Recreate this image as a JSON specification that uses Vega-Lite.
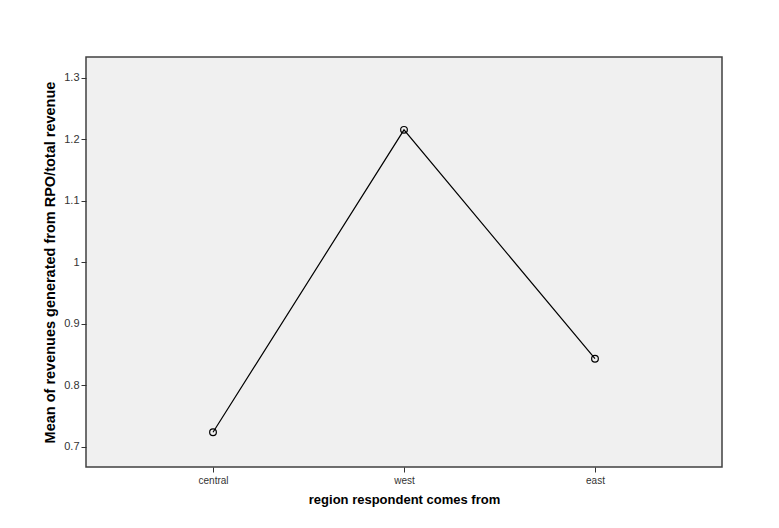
{
  "$schema": "https://vega.github.io/schema/vega-lite/v6.json",
  "autosize": "none",
  "width": 636,
  "height": 410,
  "padding": {"left": 86, "top": 57, "right": 57, "bottom": 61},
  "background": "white",
  "config": {
    "view": {"fill": "#f0f0f0", "stroke": "#404040", "strokeWidth": 1.5},
    "font": "Liberation Sans"
  },
  "data": {
    "values": [
      {"region": "central", "mean": 0.7233},
      {"region": "west", "mean": 1.2154},
      {"region": "east", "mean": 0.843}
    ]
  },
  "encoding": {
    "x": {
      "field": "region",
      "type": "ordinal",
      "sort": ["central", "west", "east"],
      "scale": {"type": "point", "padding": 0.665},
      "axis": {
        "title": "region respondent comes from",
        "titleFont": "Liberation Sans",
        "titleFontSize": 13,
        "titleFontWeight": "bold",
        "titleColor": "black",
        "titlePadding": 8,
        "labelAngle": 0,
        "labelFontSize": 10,
        "labelColor": "#333333",
        "labelPadding": 3,
        "tickColor": "#333333",
        "tickSize": 5,
        "domain": false,
        "grid": false
      }
    },
    "y": {
      "field": "mean",
      "type": "quantitative",
      "scale": {"domain": [0.6667, 1.334], "nice": false, "zero": false},
      "axis": {
        "title": "Mean of revenues generated from RPO/total revenue",
        "titleFont": "Liberation Sans",
        "titleFontSize": 14.5,
        "titleFontWeight": "bold",
        "titleColor": "black",
        "titlePadding": 6,
        "values": [0.7, 0.8, 0.9, 1.0, 1.1, 1.2, 1.3],
        "format": "~g",
        "labelFontSize": 11,
        "labelColor": "#333333",
        "labelPadding": 2,
        "tickColor": "#333333",
        "tickSize": 5,
        "domain": false,
        "grid": false
      }
    }
  },
  "layer": [
    {"mark": {"type": "line", "color": "black", "strokeWidth": 1.2}},
    {"mark": {"type": "point", "shape": "circle", "size": 45, "filled": false, "stroke": "black", "strokeWidth": 1.2, "opacity": 1}}
  ]
}
